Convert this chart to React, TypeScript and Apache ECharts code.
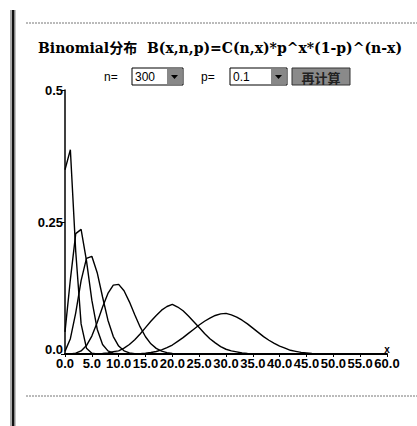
import React, { useEffect, useRef } from "react";
import * as echarts from "echarts";

const xTicks = [0, 5, 10, 15, 20, 25, 30, 35, 40, 45, 50, 55, 60];
const yTicks = [0, 0.25, 0.5];

// probabilities, one value per integer x starting at 0
const n10 = [0.349, 0.387, 0.194, 0.057, 0.011, 0.0015, 0.0001, 0];
const n30 = [0.042, 0.141, 0.228, 0.236, 0.177, 0.102, 0.047, 0.018, 0.006, 0.0016, 0.0004, 0.0001, 0];
const n50 = [0.005, 0.029, 0.078, 0.139, 0.181, 0.185, 0.154, 0.108, 0.064, 0.033, 0.015, 0.006, 0.002, 0.0007, 0.0002, 0];
const n100 = [0, 0.0003, 0.0016, 0.0059, 0.0159, 0.0339, 0.0596, 0.0889, 0.1148, 0.1304, 0.1319, 0.1199, 0.0988, 0.0743, 0.0513, 0.0327, 0.0193, 0.0106, 0.0054, 0.0026, 0.0012, 0.0005, 0.0002, 0];
const n200 = [0, 0, 0, 0, 0, 0.0001, 0.0003, 0.0009, 0.0022, 0.0045, 0.006, 0.011, 0.018, 0.027, 0.038, 0.05, 0.062, 0.073, 0.083, 0.09, 0.094, 0.089, 0.082, 0.072, 0.061, 0.05, 0.039, 0.029, 0.021, 0.014, 0.009, 0.006, 0.004, 0.002, 0.001, 0.0006, 0.0003, 0];
const n300 = [0, 0, 0, 0, 0, 0, 0, 0, 0, 0, 0, 0, 0.0001, 0.0003, 0.0007, 0.0015, 0.0028, 0.0048, 0.0078, 0.012, 0.017, 0.024, 0.031, 0.039, 0.047, 0.055, 0.062, 0.068, 0.073, 0.076, 0.077, 0.074, 0.07, 0.064, 0.057, 0.049, 0.041, 0.033, 0.026, 0.02, 0.015, 0.011, 0.007, 0.005, 0.003, 0.002, 0.001, 0.0006, 0.0003, 0];

const seriesList = [n10, n30, n50, n100, n200, n300];

const TITLE = "Binomial分布  B(x,n,p)=C(n,x)*p^x*(1-p)^(n-x)";
const nValue = "300";
const pValue = "0.1";
const buttonText = "再计算";

const AXIS_FONT = "'Liberation Sans Narrow', 'Arial Narrow', 'Liberation Sans', sans-serif";

export default function App() {
  const ref = useRef<HTMLDivElement>(null);
  useEffect(() => {
    document.body.style.margin = "0";
    const chart = echarts.init(ref.current!, null, { renderer: "svg" });
    const option: any = {
      animation: false,
      backgroundColor: "#ffffff",
      grid: { left: 65, right: 30, top: 90, bottom: 72 },
      xAxis: {
        type: "value",
        min: 0,
        max: 60,
        interval: 5,
        splitLine: { show: false },
        axisLine: { lineStyle: { color: "#000", width: 2 } },
        axisTick: { show: true, length: 3, lineStyle: { color: "#000" } },
        axisLabel: {
          color: "#000",
          fontFamily: AXIS_FONT,
          fontWeight: "bold",
          fontSize: 13,
          margin: 3,
          formatter: (v: number) => v.toFixed(1),
        },
      },
      yAxis: {
        type: "value",
        min: 0,
        max: 0.5,
        interval: 0.25,
        splitLine: { show: false },
        axisLine: { show: true, lineStyle: { color: "#000", width: 1.5 } },
        axisTick: { show: true, length: 4, lineStyle: { color: "#000" } },
        axisLabel: {
          color: "#000",
          fontFamily: AXIS_FONT,
          fontWeight: "bold",
          fontSize: 13,
          margin: 2,
          formatter: (v: number) => (v === 0 ? "{z|0.0}" : String(v)),
          rich: {
            z: {
              fontFamily: AXIS_FONT,
              fontWeight: "bold",
              fontSize: 13,
              color: "#000",
              padding: [0, 0, 9, 0],
            },
          },
        },
      },
      series: seriesList.map((arr) => ({
        type: "line",
        data: arr.map((v, i) => [i, v]),
        symbol: "none",
        smooth: false,
        lineStyle: { color: "#000", width: 1.4 },
      })),
      graphic: [
        { type: "rect", shape: { x: 10, y: 10, width: 2, height: 416 }, style: { fill: "#aaa" } },
        { type: "rect", shape: { x: 12, y: 10, width: 2.5, height: 416 }, style: { fill: "#111" } },
        { type: "rect", shape: { x: 14.5, y: 10, width: 1, height: 416 }, style: { fill: "#888" } },
        { type: "line", shape: { x1: 26, y1: 23, x2: 417, y2: 23 }, style: { stroke: "#777", lineWidth: 1, lineDash: [2, 1] } },
        { type: "line", shape: { x1: 26, y1: 396, x2: 417, y2: 396 }, style: { stroke: "#777", lineWidth: 1, lineDash: [2, 1] } },
        {
          type: "text",
          x: 38,
          y: 48,
          style: {
            text: TITLE,
            fill: "#000",
            font: "bold 14px 'DejaVu Serif', 'Noto Sans CJK SC', serif",
            verticalAlign: "middle",
          },
        },
        { type: "text", x: 104, y: 77, style: { text: "n=", fill: "#000", font: "12px 'Liberation Sans', sans-serif", verticalAlign: "middle" } },
        { type: "rect", shape: { x: 132, y: 68, width: 51, height: 17 }, style: { fill: "#fff", stroke: "#000", lineWidth: 1 } },
        { type: "rect", shape: { x: 167, y: 69, width: 15, height: 15 }, style: { fill: "#888" } },
        { type: "polygon", shape: { points: [[171, 75], [178, 75], [174.5, 79]] }, style: { fill: "#000" } },
        { type: "text", x: 135, y: 77, style: { text: nValue, fill: "#000", font: "12px 'Liberation Sans', sans-serif", verticalAlign: "middle" } },
        { type: "text", x: 201, y: 77, style: { text: "p=", fill: "#000", font: "12px 'Liberation Sans', sans-serif", verticalAlign: "middle" } },
        { type: "rect", shape: { x: 230, y: 68, width: 57, height: 17 }, style: { fill: "#fff", stroke: "#000", lineWidth: 1 } },
        { type: "rect", shape: { x: 271, y: 69, width: 15, height: 15 }, style: { fill: "#888" } },
        { type: "polygon", shape: { points: [[275, 75], [282, 75], [278.5, 79]] }, style: { fill: "#000" } },
        { type: "text", x: 233, y: 77, style: { text: pValue, fill: "#000", font: "12px 'Liberation Sans', sans-serif", verticalAlign: "middle" } },
        { type: "rect", shape: { x: 292, y: 68, width: 58, height: 17 }, style: { fill: "#8a8a8a", stroke: "#333", lineWidth: 1 } },
        { type: "text", x: 321, y: 77, style: { text: buttonText, fill: "#222", font: "bold 13px 'Noto Sans CJK SC', sans-serif", align: "center", verticalAlign: "middle" } },
        { type: "text", x: 387, y: 349, style: { text: "x", fill: "#000", font: "bold 10px sans-serif", align: "center", verticalAlign: "middle" } },
      ],
    };
    chart.setOption(option);
    return () => chart.dispose();
  }, []);
  return (
    <div
      ref={ref}
      style={{ position: "absolute", left: 0, top: 0, width: 417, height: 426 }}
    />
  );
}
